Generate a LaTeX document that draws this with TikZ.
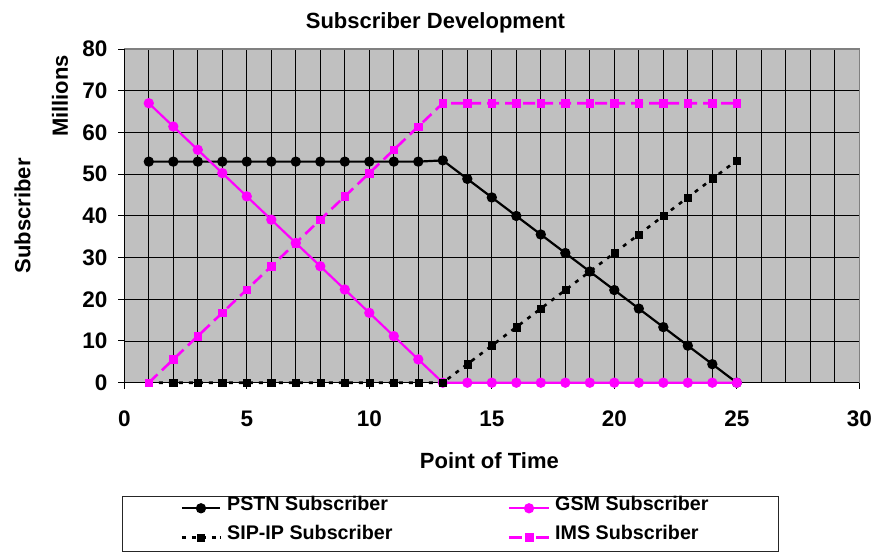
\documentclass[tikz,border=0pt]{standalone}
\usepackage{fontspec}
\setmainfont{Liberation Sans}
\usetikzlibrary{plotmarks}
\definecolor{plotgray}{HTML}{C0C0C0}
\definecolor{framegray}{HTML}{808080}
\definecolor{gsmpink}{HTML}{FF00FF}
\tikzset{
  lbl/.style={font=\bfseries\fontsize{22}{26}\selectfont, inner sep=0pt},
  ticklbl/.style={font=\bfseries\fontsize{22.5}{26}\selectfont, inner sep=0pt},
  leglbl/.style={font=\bfseries\fontsize{19.7}{24}\selectfont, inner sep=0pt, anchor=mid west},
  gridline/.style={black, line width=0.9pt},
  pstnline/.style={black, line width=2.2pt, mark=*, mark size=4pt},
  gsmline/.style={gsmpink, line width=2.2pt, mark=*, mark size=4pt},
  sipline/.style={black, line width=2.6pt, dash pattern=on 4pt off 6pt},
  sipmarks/.style={black, only marks, mark=square*, mark size=3.6pt},
  imsline/.style={gsmpink, line width=2.6pt, dash pattern=on 12pt off 6pt},
  imsmarks/.style={gsmpink, only marks, mark=square*, mark size=3.8pt}
}
\begin{document}
\begin{tikzpicture}[x=24.5pt,y=4.171pt]
\useasboundingbox (-5.073,-40.59) rectangle (30.64,91.75);
% plot area
\fill[plotgray] (0,0) rectangle (30,80);
\foreach \i in {1,...,29}
  \draw[gridline] (\i,0) -- (\i,80);
\foreach \j in {10,20,...,70}
  \draw[gridline] (0,\j) -- (30,\j);
\draw[framegray, line width=1.6pt] (0,80) -- (30,80) -- (30,0);
\draw[black, line width=1pt] (0,80) -- (0,0) -- (30,0);

% ticks and tick labels
\foreach \j in {0,10,...,80} {
  \draw[black, line width=1pt] (0,\j) -- ++(-6pt,0);
  \node[ticklbl, anchor=east] (yt\j) at (-0.686,\j) {\j};
}
\foreach \i in {0,5,...,30} {
  \draw[black, line width=1pt] (\i,0) -- ++(0,-6pt);
  \node[ticklbl] (xt\i) at (\i,-8.7) {\i};
}

% titles
\node[lbl, anchor=base] (title) at (12.70,84.97) {Subscriber Development};
\node[lbl, anchor=base] (xlabel) at (14.9,-20.52) {Point of Time};
\node[lbl, rotate=90] (ylabel) at (-4.155,40) {Subscriber};
\node[lbl, rotate=90] (unit) at (-2.624,68.76) {Millions};

% data series
\draw[pstnline] plot[samples at={1,...,12}] (\x,53)
  -- plot[samples at={13,...,25}] (\x,{53.3*(25-\x)/12});
\draw[gsmline] plot[samples at={1,...,13}] (\x,{67*(13-\x)/12})
  -- plot[samples at={14,...,25}] (\x,0);
\draw[sipline] (1,0) -- (13,0) -- (25,53.3);
\draw[sipmarks] plot[samples at={1,...,13}] (\x,0);
\draw[sipmarks] plot[samples at={14,...,25}] (\x,{53.3*(\x-13)/12});
\draw[imsline] (1,0) -- (13,67) -- (25,67);
\draw[imsmarks] plot[samples at={1,...,13}] (\x,{67*(\x-1)/12});
\draw[imsmarks] plot[samples at={14,...,25}] (\x,67);

% legend
\draw[black!85, line width=0.8pt, fill=white] (-0.094,-27.16) rectangle (26.68,-40.35);
\coordinate (pstnA) at (2.35,-30.11);
\coordinate (pstnB) at (3.91,-30.11);
\draw[pstnline] (pstnA) -- (pstnB);
\draw[pstnline, only marks] plot coordinates {(3.13,-30.11)};
\node[leglbl] (legpstn) at (4.19,-30.11) {PSTN Subscriber};
\coordinate (sipA) at (2.35,-37.07);
\coordinate (sipB) at (3.91,-37.07);
\draw[sipline, dash pattern=on 4pt off 6pt on 4pt off 6pt on 4pt off 6pt on 4pt] (sipA) -- (sipB);
\draw[sipmarks] plot coordinates {(3.13,-37.07)};
\node[leglbl] (legsip) at (4.19,-37.07) {SIP-IP Subscriber};
\coordinate (gsmA) at (15.70,-30.11);
\coordinate (gsmB) at (17.33,-30.11);
\draw[gsmline] (gsmA) -- (gsmB);
\draw[gsmline, only marks] plot coordinates {(16.52,-30.11)};
\node[leglbl] (leggsm) at (17.58,-30.11) {GSM Subscriber};
\coordinate (imsA) at (15.70,-37.07);
\coordinate (imsB) at (17.33,-37.07);
\draw[imsline, dash pattern=on 13pt off 14pt] (imsA) -- (imsB);
\draw[imsmarks] plot coordinates {(16.52,-37.07)};
\node[leglbl] (legims) at (17.58,-37.07) {IMS Subscriber};
\end{tikzpicture}
\end{document}
